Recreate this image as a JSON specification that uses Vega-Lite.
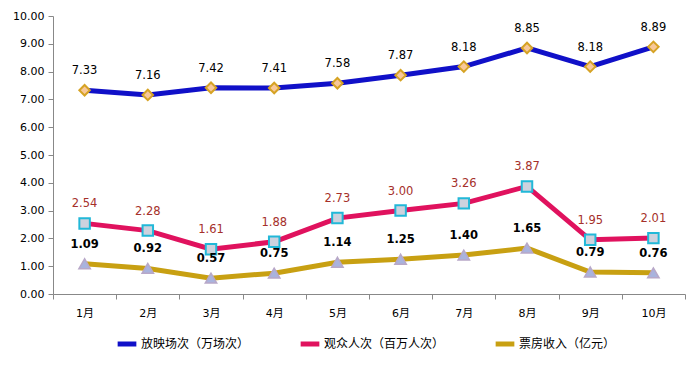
{
  "$schema": "https://vega.github.io/schema/vega-lite/v6.json",
  "width": 632,
  "height": 278,
  "autosize": "none",
  "padding": {"left": 53, "top": 16, "right": 15, "bottom": 80},
  "background": "white",
  "config": {
    "view": {"stroke": null},
    "font": "DejaVu Sans",
    "axis": {"labelFont": "DejaVu Sans, Noto Sans CJK SC", "labelColor": "#000", "domainColor": "#888", "tickColor": "#888", "grid": false, "labelFontSize": 11}
  },
  "data": {"values": [
    {"month": "1月", "series": "放映场次（万场次）", "v": 7.33},
    {"month": "2月", "series": "放映场次（万场次）", "v": 7.16},
    {"month": "3月", "series": "放映场次（万场次）", "v": 7.42},
    {"month": "4月", "series": "放映场次（万场次）", "v": 7.41},
    {"month": "5月", "series": "放映场次（万场次）", "v": 7.58},
    {"month": "6月", "series": "放映场次（万场次）", "v": 7.87},
    {"month": "7月", "series": "放映场次（万场次）", "v": 8.18},
    {"month": "8月", "series": "放映场次（万场次）", "v": 8.85},
    {"month": "9月", "series": "放映场次（万场次）", "v": 8.18},
    {"month": "10月", "series": "放映场次（万场次）", "v": 8.89},
    {"month": "1月", "series": "观众人次（百万人次）", "v": 2.54},
    {"month": "2月", "series": "观众人次（百万人次）", "v": 2.28},
    {"month": "3月", "series": "观众人次（百万人次）", "v": 1.61},
    {"month": "4月", "series": "观众人次（百万人次）", "v": 1.88},
    {"month": "5月", "series": "观众人次（百万人次）", "v": 2.73},
    {"month": "6月", "series": "观众人次（百万人次）", "v": 3.00},
    {"month": "7月", "series": "观众人次（百万人次）", "v": 3.26},
    {"month": "8月", "series": "观众人次（百万人次）", "v": 3.87},
    {"month": "9月", "series": "观众人次（百万人次）", "v": 1.95},
    {"month": "10月", "series": "观众人次（百万人次）", "v": 2.01},
    {"month": "1月", "series": "票房收入（亿元）", "v": 1.09},
    {"month": "2月", "series": "票房收入（亿元）", "v": 0.92},
    {"month": "3月", "series": "票房收入（亿元）", "v": 0.57},
    {"month": "4月", "series": "票房收入（亿元）", "v": 0.75},
    {"month": "5月", "series": "票房收入（亿元）", "v": 1.14},
    {"month": "6月", "series": "票房收入（亿元）", "v": 1.25},
    {"month": "7月", "series": "票房收入（亿元）", "v": 1.40},
    {"month": "8月", "series": "票房收入（亿元）", "v": 1.65},
    {"month": "9月", "series": "票房收入（亿元）", "v": 0.79},
    {"month": "10月", "series": "票房收入（亿元）", "v": 0.76}
  ]},
  "encoding": {
    "x": {
      "field": "month", "type": "ordinal",
      "sort": ["1月","2月","3月","4月","5月","6月","7月","8月","9月","10月"],
      "scale": {"type": "band", "paddingInner": 0, "paddingOuter": 0},
      "bandPosition": 0.5,
      "axis": {"title": null, "labelAngle": 0, "tickBand": "extent", "labelPadding": 8, "tickSize": 5}
    },
    "y": {
      "field": "v", "type": "quantitative",
      "scale": {"domain": [0, 10], "nice": false},
      "axis": {"title": null, "values": [0,1,2,3,4,5,6,7,8,9,10], "format": ".2f", "tickSize": 5, "labelPadding": 4}
    }
  },
  "layer": [
    {
      "mark": {"type": "line", "strokeWidth": 5},
      "encoding": {
        "stroke": {
          "field": "series", "type": "nominal",
          "scale": {"domain": ["放映场次（万场次）","观众人次（百万人次）","票房收入（亿元）"], "range": ["#1010C8","#E0125E","#C8A012"]},
          "legend": {"title": null, "orient": "none", "legendX": 62, "legendY": 316, "direction": "horizontal", "symbolType": "stroke", "symbolStrokeWidth": 5, "symbolSize": 350, "labelFont": "Noto Sans CJK SC", "labelFontSize": 12, "columnPadding": 40, "labelOffset": 2}
        }
      }
    },
    {
      "transform": [{"filter": "datum.series == '放映场次（万场次）'"}],
      "mark": {"type": "point", "shape": "diamond", "filled": false, "strokeWidth": 2, "size": 110, "stroke": "#D6A324", "fill": "#F8C89A", "opacity": 1}
    },
    {
      "transform": [{"filter": "datum.series == '观众人次（百万人次）'"}],
      "mark": {"type": "point", "shape": "square", "filled": false, "strokeWidth": 2, "size": 110, "stroke": "#22B8D8", "fill": "#CDD2DE", "opacity": 1}
    },
    {
      "transform": [{"filter": "datum.series == '票房收入（亿元）'"}],
      "mark": {"type": "point", "shape": "triangle-up", "filled": false, "strokeWidth": 1.5, "size": 130, "stroke": "#B8A8C8", "fill": "#A9B3DD", "opacity": 1}
    },
    {
      "transform": [{"filter": "datum.series == '放映场次（万场次）'"}],
      "mark": {"type": "text", "dy": -19, "fontSize": 11.5, "color": "#000"},
      "encoding": {"text": {"field": "v", "type": "quantitative", "format": ".2f"}}
    },
    {
      "transform": [{"filter": "datum.series == '观众人次（百万人次）'"}],
      "mark": {"type": "text", "dy": -19, "fontSize": 11.5, "color": "#A5302A"},
      "encoding": {"text": {"field": "v", "type": "quantitative", "format": ".2f"}}
    },
    {
      "transform": [{"filter": "datum.series == '票房收入（亿元）'"}],
      "mark": {"type": "text", "dy": -19, "fontSize": 11.5, "fontWeight": "bold", "color": "#000"},
      "encoding": {"text": {"field": "v", "type": "quantitative", "format": ".2f"}}
    }
  ]
}
